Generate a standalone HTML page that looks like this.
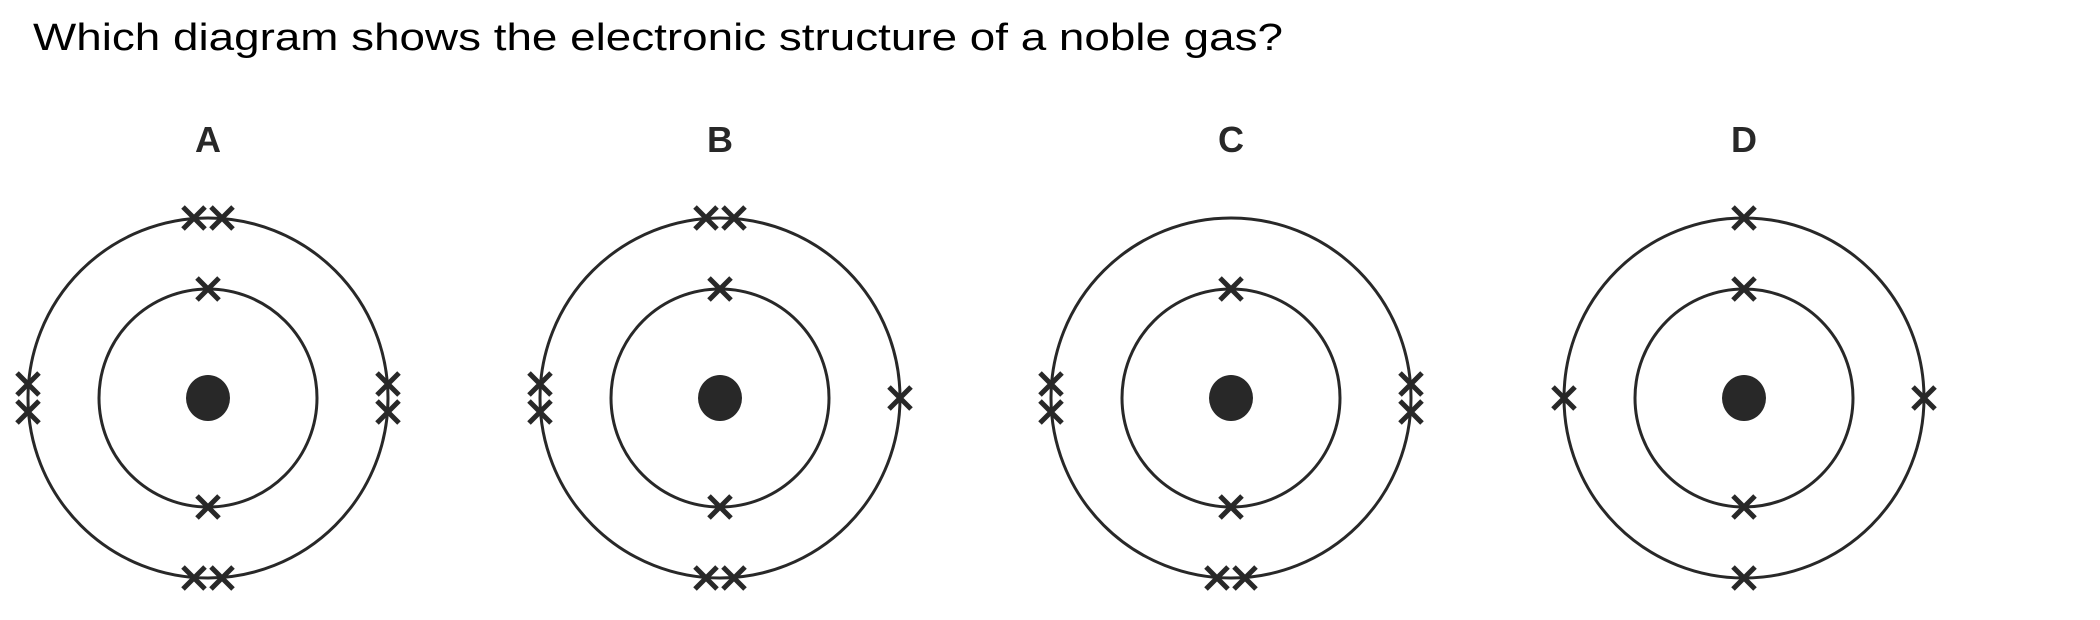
<!DOCTYPE html>
<html><head><meta charset="utf-8"><style>
html,body{margin:0;padding:0;background:#fff;}
svg{display:block;}
</style></head><body>
<svg width="2100" height="620" viewBox="0 0 2100 620" xmlns="http://www.w3.org/2000/svg">
<defs>
<g id="x"><path d="M-11,-11 L11,11 M11,-11 L-11,11" stroke="#282828" stroke-width="5" fill="none"/></g>
</defs>
<text x="33" y="50" font-family="Liberation Sans, sans-serif" font-size="38" fill="#000" textLength="1250" lengthAdjust="spacingAndGlyphs">Which diagram shows the electronic structure of a noble gas?</text>
<g font-family="Liberation Sans, sans-serif" font-size="36" font-weight="bold" fill="#282828" text-anchor="middle">
<text x="208" y="152">A</text><text x="720" y="152">B</text><text x="1231" y="152">C</text><text x="1744" y="152">D</text>
</g>
<g stroke="#282828" stroke-width="3" fill="none">
<circle cx="208" cy="398" r="180"/><circle cx="208" cy="398" r="109"/>
<circle cx="720" cy="398" r="180"/><circle cx="720" cy="398" r="109"/>
<circle cx="1231" cy="398" r="180"/><circle cx="1231" cy="398" r="109"/>
<circle cx="1744" cy="398" r="180"/><circle cx="1744" cy="398" r="109"/>
</g>
<g fill="#282828">
<ellipse cx="208" cy="398" rx="22" ry="23"/><ellipse cx="720" cy="398" rx="22" ry="23"/>
<ellipse cx="1231" cy="398" rx="22" ry="23"/><ellipse cx="1744" cy="398" rx="22" ry="23"/>
</g>
<!-- A -->
<use href="#x" x="208" y="289"/><use href="#x" x="208" y="507"/>
<use href="#x" x="194" y="218"/><use href="#x" x="222" y="218"/>
<use href="#x" x="194" y="578"/><use href="#x" x="222" y="578"/>
<use href="#x" x="28" y="384"/><use href="#x" x="28" y="412"/>
<use href="#x" x="388" y="384"/><use href="#x" x="388" y="412"/>
<!-- B -->
<use href="#x" x="720" y="289"/><use href="#x" x="720" y="507"/>
<use href="#x" x="706" y="218"/><use href="#x" x="734" y="218"/>
<use href="#x" x="706" y="578"/><use href="#x" x="734" y="578"/>
<use href="#x" x="540" y="384"/><use href="#x" x="540" y="412"/>
<use href="#x" x="900" y="398"/>
<!-- C -->
<use href="#x" x="1231" y="289"/><use href="#x" x="1231" y="507"/>
<use href="#x" x="1217" y="578"/><use href="#x" x="1245" y="578"/>
<use href="#x" x="1051" y="384"/><use href="#x" x="1051" y="412"/>
<use href="#x" x="1411" y="384"/><use href="#x" x="1411" y="412"/>
<!-- D -->
<use href="#x" x="1744" y="289"/><use href="#x" x="1744" y="507"/>
<use href="#x" x="1744" y="218"/><use href="#x" x="1744" y="578"/>
<use href="#x" x="1564" y="398"/><use href="#x" x="1924" y="398"/>
</svg>
</body></html>
